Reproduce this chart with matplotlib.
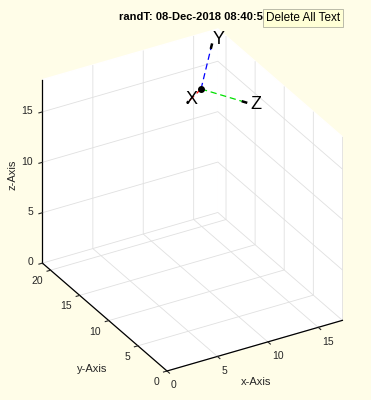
import numpy as np
import matplotlib
matplotlib.use("Agg")
import matplotlib.pyplot as plt
from mpl_toolkits.mplot3d import proj3d

plt.rcParams['font.family'] = ['Liberation Sans', 'DejaVu Sans']
plt.rcParams['grid.color'] = '#e0e0e0'
plt.rcParams['grid.linewidth'] = 0.6

# ---- data ----
x_lim = [0, 17.4]
y_lim = [0, 21.4]
z_lim = [0, 18.2]
x_ticks = [0, 5, 10, 15]
y_ticks = [0, 5, 10, 15, 20]
z_ticks = [0, 5, 10, 15]
origin_pt = [15.5, 21.0, 13.0]
vec_x = [-1.4, 0.0, -1.0]
vec_y = [1.1, 0.0, 4.2]
vec_z = [1.7, -5.0, 0.63]
lab_x_off = [-1.58, 0.0, -0.63]
lab_y_off = [1.18, 0.0, 4.6]
lab_z_off = [2.05, -5.0, 0.33]
x_label = 'x-Axis'
y_label = 'y-Axis'
z_label = 'z-Axis'
title_text = "randT: 08-Dec-2018 08:40:58"
tooltip_text = "Delete All Text"

W, H = 371, 400
BG = '#FFFDE8'
TXT = '#262626'
fig = plt.figure(figsize=(W / 100, H / 100), dpi=100, facecolor=BG)
ax = fig.add_axes([20 / W, 40 / H, 320 / W, 320 / H], projection='3d', proj_type='ortho')
ax.set_facecolor((1, 1, 1, 0))
ax.view_init(elev=30, azim=-120)
ax.set_xlim(*x_lim)
ax.set_ylim(*y_lim)
ax.set_zlim(*z_lim)
ax.set_box_aspect((x_lim[1] - x_lim[0], y_lim[1] - y_lim[0], z_lim[1] - z_lim[0]))
ax.set_xticks(x_ticks)
ax.set_yticks(y_ticks)
ax.set_zticks(z_ticks)

for axis in (ax.xaxis, ax.yaxis, ax.zaxis):
    axis.set_pane_color((1, 1, 1, 1))
    axis.pane.set_edgecolor((1, 1, 1, 0))
    axis.line.set_color('black')
    axis.line.set_linewidth(0.9)
    axis._axinfo['tick']['inward_factor'] = 0.25
    axis._axinfo['tick']['outward_factor'] = 0.0
    axis._axinfo['tick']['linewidth'] = {True: 0.8, False: 0.5}
    axis._axinfo['tick']['color'] = 'black'
    axis.offsetText.set_visible(False)
    axis.label.set_visible(False)
ax.tick_params(axis='x', labelsize=7.5, colors=TXT, pad=-3.5)
ax.tick_params(axis='y', labelsize=7.5, colors=TXT, pad=-2.0)
ax.tick_params(axis='z', labelsize=7.5, colors=TXT, pad=-3.75)
for lab in ax.get_xticklabels():
    lab.set_ha('left')
for lab in ax.get_yticklabels():
    lab.set_ha('right')
    lab.set_va('center_baseline')
for lab in ax.get_zticklabels():
    lab.set_ha('right')
    lab.set_va('center_baseline')

# triad
o = np.array(origin_pt)
for v, col in ((vec_x, 'red'), (vec_y, '#0000ff'), (vec_z, '#00e000')):
    v = np.array(v)
    tip = o + v
    ax.plot([o[0], tip[0]], [o[1], tip[1]], [o[2], tip[2]], ls=(0, (5, 3)), color=col, lw=0.9)
    a = o + 0.88 * v
    ax.plot([a[0], tip[0]], [a[1], tip[1]], [a[2], tip[2]], color='black', lw=1.8, solid_capstyle='butt')
ax.plot([o[0]], [o[1]], [o[2]], 'o', color='black', ms=4)
for off, s in ((lab_x_off, 'X'), (lab_y_off, 'Y'), (lab_z_off, 'Z')):
    p = o + np.array(off)
    ax.text(p[0], p[1], p[2], s, fontsize=13, ha='left', va='center', color='black')

# calibrate axes placement so that the box lands where the reference has it
def proj(pt):
    M = ax.get_proj()
    xs, ys, _ = proj3d.proj_transform(pt[0], pt[1], pt[2], M)
    return ax.transData.transform((xs, ys))

fig.canvas.draw()
L = proj((x_lim[0], y_lim[1], z_lim[0]))
R = proj((x_lim[1], y_lim[0], z_lim[0]))
s = (343 - 43) / (R[0] - L[0])
pos = ax.get_position(original=True)
cx, cy = pos.x0 + pos.width / 2, pos.y0 + pos.height / 2
nw, nh = pos.width * s, pos.height * s
ax.set_position([cx - nw / 2, cy - nh / 2, nw, nh])
fig.canvas.draw()
O = proj((0, 0, 0))
dx = (167 - O[0]) / W
dy = ((H - 371) - O[1]) / H
pos = ax.get_position(original=True)
ax.set_position([pos.x0 + dx, pos.y0 + dy, pos.width, pos.height])

# axis labels (MATLAB keeps them horizontal for x / y)
fig.text(256 / W, 1 - 382 / H, x_label, fontsize=8, color=TXT, ha='center', va='center')
fig.text(92 / W, 1 - 369 / H, y_label, fontsize=8, color=TXT, ha='center', va='center')
fig.text(12 / W, 1 - 175 / H, z_label, fontsize=8, color=TXT, ha='center', va='center', rotation=90)

fig.text(119 / W, 1 - 17.5 / H, title_text, fontsize=8, fontweight='bold', ha='left', va='center', zorder=5)
fig.text(266 / W, 1 - 18 / H, tooltip_text, fontsize=8.5, ha='left', va='center', zorder=10,
         bbox=dict(boxstyle='square,pad=0.28', fc='#FFFFD6', ec='#B0B0A0', lw=0.6))

fig.savefig('out.png', dpi=100, facecolor=BG)
